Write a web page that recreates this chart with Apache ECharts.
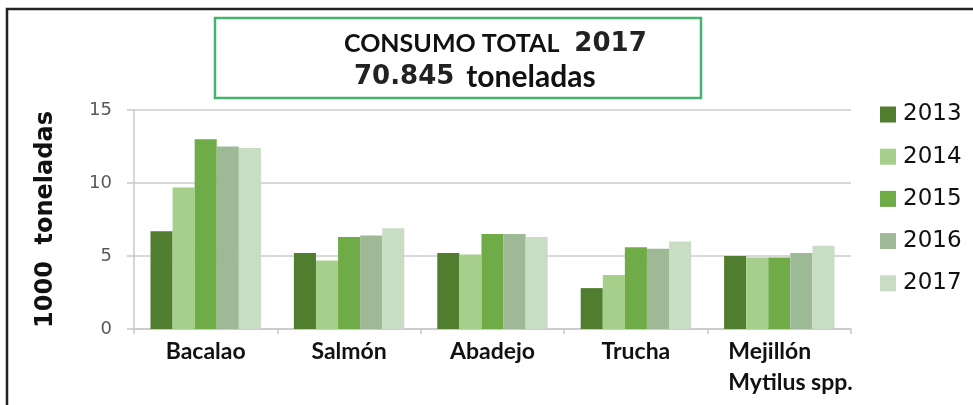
<!DOCTYPE html>
<html>
<head>
<meta charset="utf-8">
<script src="https://cdn.jsdelivr.net/npm/echarts@6/dist/echarts.min.js"></script>
<style>
html,body{margin:0;padding:0;background:#fff;}
#chart{width:973px;height:405px;}
</style>
</head>
<body>
<div id="chart"></div>
<script>
var categories = ['Bacalao', 'Salmón', 'Abadejo', 'Trucha', 'Mejillón\nMytilus spp.'];
var years = ['2013', '2014', '2015', '2016', '2017'];
var v2013 = [6.7, 5.2, 5.2, 2.8, 5.0];
var v2014 = [9.7, 4.7, 5.1, 3.7, 4.9];
var v2015 = [13.0, 6.3, 6.5, 5.6, 4.9];
var v2016 = [12.5, 6.4, 6.5, 5.5, 5.2];
var v2017 = [12.4, 6.9, 6.3, 6.0, 5.7];
var yTicks = [0, 5, 10, 15];
var colors = ['#507d2e', '#a6cf8b', '#6fac47', '#9db995', '#c9dcc4'];
var titleLine1 = 'CONSUMO TOTAL';
var titleYear = '2017';
var titleTotal = '70.845';
var titleUnit = 'toneladas';
var yName = '1000  toneladas';

var seriesValues = [v2013, v2014, v2015, v2016, v2017];
var calibri = "Lato, sans-serif";
var chart = echarts.init(document.getElementById('chart'));
var series = years.map(function (y, i) {
  return {
    name: y,
    type: 'bar',
    data: seriesValues[i],
    barGap: 0,
    barCategoryGap: '23%',
    itemStyle: { color: colors[i] }
  };
});
chart.setOption({
  animation: false,
  backgroundColor: '#fff',
  grid: { left: 134, right: 122, top: 110, bottom: 76, containLabel: false },
  legend: {
    orient: 'vertical',
    left: 875,
    top: 98,
    icon: 'rect',
    itemWidth: 16,
    itemHeight: 16,
    itemGap: 19.2,
    data: years,
    textStyle: { fontFamily: 'DejaVu Sans', fontSize: 23, color: '#111', lineHeight: 22, padding: [0, 0, 0, 2] }
  },
  xAxis: {
    type: 'category',
    data: categories,
    axisLine: { lineStyle: { color: '#c8c8c8', width: 1.5 } },
    axisTick: { show: true, length: 5, lineStyle: { color: '#c8c8c8', width: 1.5 } },
    axisLabel: {
      interval: 0,
      margin: 7,
      lineHeight: 31,
      fontFamily: calibri,
      fontWeight: 'bold',
      fontSize: 23,
      color: '#111',
      formatter: function (v) {
        if (v.indexOf('\n') >= 0) {
          return v.split('\n').map(function (s) { return '{m|' + s + '}'; }).join('\n');
        }
        return v;
      },
      rich: {
        m: { width: 130, align: 'left', padding: [0, 0, 0, 28], fontFamily: calibri, fontWeight: 'bold', fontSize: 23, color: '#111', lineHeight: 31 }
      }
    }
  },
  yAxis: {
    type: 'value',
    min: 0,
    max: 15,
    interval: 5,
    name: yName,
    nameLocation: 'middle',
    nameRotate: 90,
    nameGap: 76,
    nameTextStyle: { fontFamily: 'DejaVu Sans', fontWeight: 'bold', fontSize: 24, color: '#111' },
    axisLine: { show: true, lineStyle: { color: '#c8c8c8', width: 1.5 } },
    axisTick: { show: true, length: 7, lineStyle: { color: '#c8c8c8', width: 1.5 } },
    splitLine: { lineStyle: { color: '#d9d9d9', width: 2 } },
    axisLabel: {
      margin: 22,
      fontFamily: 'DejaVu Sans',
      fontSize: 18,
      color: '#595959',
      formatter: function (v) { return yTicks.indexOf(v) >= 0 ? String(v) : ''; }
    }
  },
  graphic: [
    { type: 'rect', shape: { x: 7, y: 9, width: 1100, height: 600 }, style: { fill: 'none', stroke: '#222', lineWidth: 2.5 }, silent: true },
    { type: 'rect', shape: { x: 215, y: 18, width: 486, height: 80 }, style: { fill: 'none', stroke: '#45b26f', lineWidth: 2.5 }, silent: true },
    {
      type: 'text', left: 344, top: 31,
      style: {
        text: '{a|' + titleLine1 + '}{b|' + titleYear + '}',
        rich: {
          a: { fontFamily: calibri, fontWeight: 'bold', fontSize: 25, fill: '#111', padding: [0, 15, 0, 0] },
          b: { fontFamily: 'DejaVu Sans', fontWeight: 'bold', fontSize: 26, fill: '#222' }
        }
      }
    },
    {
      type: 'text', left: 354, top: 62,
      style: {
        text: '{b|' + titleTotal + '}{a|' + titleUnit + '}',
        rich: {
          a: { fontFamily: calibri, fontWeight: 'bold', fontSize: 30, fill: '#111' },
          b: { fontFamily: 'DejaVu Sans', fontWeight: 'bold', fontSize: 26, fill: '#222', padding: [0, 12, 0, 0] }
        }
      }
    }
  ],
  series: series
});
</script>
</body>
</html>
